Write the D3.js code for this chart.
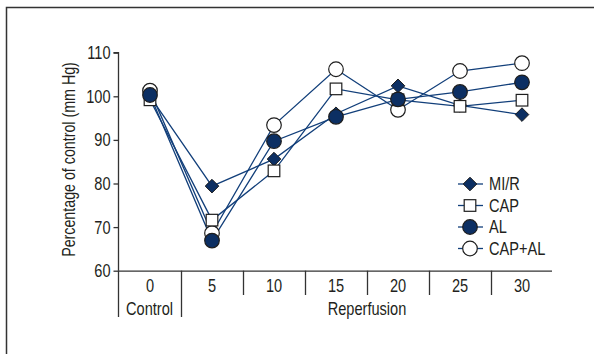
<!DOCTYPE html>
<html>
<head>
<meta charset="utf-8">
<script src="https://cdn.jsdelivr.net/npm/d3@7"></script>
<style>
html,body{margin:0;padding:0;background:#fff;}
svg{display:block;}
text{font-family:"Liberation Sans",Arial,sans-serif;fill:#231f20;}
</style>
</head>
<body>
<svg id="chart" width="594" height="354"></svg>
<script>
const categories = ["0","5","10","15","20","25","30"];
const yTicks = [60,70,80,90,100,110];
const seriesNames = ["MI/R","CAP","AL","CAP+AL"];
const miR   = [100.0, 79.4, 85.6, 96.0, 102.4, 97.9, 95.8];
const cap   = [99.2, 71.6, 82.9, 101.7, 99.2, 97.7, 99.1];
const al    = [100.3, 66.9, 89.7, 95.3, 99.3, 101.0, 103.2];
const capAl = [101.3, 68.6, 93.4, 106.2, 96.9, 105.8, 107.6];
const groupLabels = ["Control","Reperfusion"];

const svg = d3.select("#chart");
const navy = "#0c2f63";
const lineColor = "#123f7a";
const edge = "#1e1e1e";
const SX = 0.81;

// condensed text helper
function ctext(g, px, py, str, size, anchor, rot){
  return g.append("text")
    .attr("transform", `translate(${px},${py})${rot?` rotate(${rot})`:""} scale(${SX},1)`)
    .attr("text-anchor", anchor || "start")
    .style("font-size", size + "px")
    .text(str);
}

// outer frame
svg.append("path").attr("d","M6.5,354 V7.5 H594").attr("fill","none").attr("stroke","#333").attr("stroke-width",1.5);

const x = d3.scaleBand().domain(categories).range([119,553]).paddingInner(0).paddingOuter(0);
const y = d3.scaleLinear().domain([60,110]).range([270.7,52.7]);
const cx = c => x(c) + x.bandwidth()/2;

// Y axis
const yAxis = svg.append("g").attr("transform","translate(118.5,0)")
  .call(d3.axisLeft(y).tickValues(yTicks).tickSize(5).tickFormat(""));
yAxis.select(".domain").attr("stroke","#333").attr("stroke-width",1.3).attr("d",`M-5,${y(110)}H0V${y(60)}`);
yAxis.selectAll(".tick line").attr("stroke","#333").attr("stroke-width",1.3);
const gyl = svg.append("g");
yTicks.forEach(t => ctext(gyl, 110.5, y(t)+6.4, String(t), 18, "end"));

// X axis line
svg.append("line").attr("x1",118).attr("x2",552).attr("y1",y(60)+0.5).attr("y2",y(60)+0.5)
  .attr("stroke","#333").attr("stroke-width",1.3);
// dividers
categories.forEach((c,i) => {
  const bx = i===0 ? 118.5 : Math.round(x(c))+0.5;
  const long = i<=1;
  svg.append("line").attr("x1",bx).attr("x2",bx).attr("y1",y(60)).attr("y2",long?317:295)
    .attr("stroke","#333").attr("stroke-width",1.3);
});
// tick labels
const gxl = svg.append("g");
categories.forEach(c => ctext(gxl, cx(c), 292, c, 18, "middle"));
// group labels
ctext(svg, (118+x("5"))/2, 315, groupLabels[0], 18, "middle");
ctext(svg, (x("5")+553)/2, 315, groupLabels[1], 18, "middle");

// y title
ctext(svg, 75, 159.5, "Percentage of control (mm Hg)", 17.6, "middle", -90);

const series = [
  {name:seriesNames[0], values:miR, shape:"diamond", fill:navy},
  {name:seriesNames[1], values:cap, shape:"square", fill:"#fff"},
  {name:seriesNames[2], values:al, shape:"circle", fill:navy},
  {name:seriesNames[3], values:capAl, shape:"circle", fill:"#fff"}
];
const line = d3.line().x((d,i)=>cx(categories[i])).y(d=>y(d));
const gl = svg.append("g");
series.forEach(s => {
  gl.append("path").attr("d",line(s.values)).attr("fill","none").attr("stroke",lineColor).attr("stroke-width",1.3);
});

function marker(g, shape, fill, px, py){
  if(shape==="diamond"){
    const r=6.8;
    g.append("path").attr("d",`M${px},${py-r}L${px+r},${py}L${px},${py+r}L${px-r},${py}Z`)
      .attr("fill",fill).attr("stroke",edge).attr("stroke-width",1);
  } else if(shape==="square"){
    const h=5.8;
    g.append("rect").attr("x",px-h).attr("y",py-h).attr("width",2*h).attr("height",2*h)
      .attr("fill",fill).attr("stroke",edge).attr("stroke-width",1.2);
  } else {
    g.append("circle").attr("cx",px).attr("cy",py).attr("r",7.3)
      .attr("fill",fill).attr("stroke",edge).attr("stroke-width",1.2);
  }
}
const gm = svg.append("g");
[series[3],series[0],series[1],series[2]].forEach(s=>{
  s.values.forEach((v,i)=>marker(gm,s.shape,s.fill,cx(categories[i]),y(v)));
});

// legend
const legY = [184,205.5,227,248.5];
series.forEach((s,i)=>{
  const g = svg.append("g");
  g.append("line").attr("x1",458).attr("x2",483).attr("y1",legY[i]).attr("y2",legY[i]).attr("stroke",lineColor).attr("stroke-width",1.3);
  marker(g,s.shape,s.fill,470,legY[i]);
  ctext(g, 489, legY[i]+6.4, s.name, 18, "start");
});
</script>
</body>
</html>
